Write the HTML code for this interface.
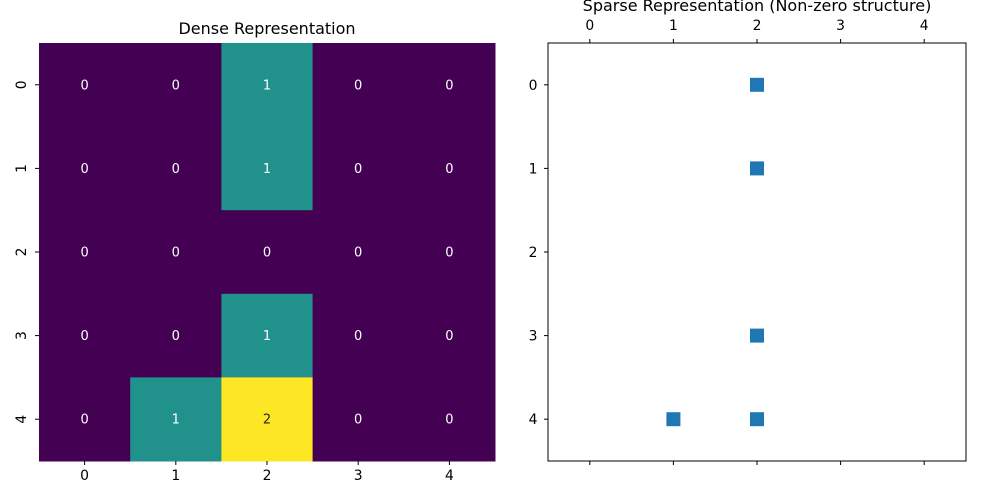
<!DOCTYPE html>
<html><head><meta charset="utf-8">
<style>
html,body{margin:0;padding:0;background:#fff;}
svg{display:block;font-family:"DejaVu Sans","Liberation Sans",sans-serif;}
</style></head>
<body>
<svg id="chart" width="1000" height="500" xmlns="http://www.w3.org/2000/svg">
<text x="267" y="34" font-size="16" text-anchor="middle" fill="#000">Dense Representation</text>
<text x="757" y="11" font-size="16" text-anchor="middle" fill="#000">Sparse Representation (Non-zero structure)</text>
<g id="dense"></g>
<g id="sparse"></g>
</svg>
<script>
const rowLabels = ["0","1","2","3","4"];
const colLabels = ["0","1","2","3","4"];
const matrix = [
  [0,0,1,0,0],
  [0,0,1,0,0],
  [0,0,0,0,0],
  [0,0,1,0,0],
  [0,1,2,0,0]
];
const NS = "http://www.w3.org/2000/svg";
function mk(tag, attrs, parent){const e=document.createElementNS(NS,tag);for(const k in attrs)e.setAttribute(k,attrs[k]);parent.appendChild(e);return e;}
const colorMap = v => v<=0?"#440154":(v>=2?"#fde725":"#21918c");
const FS=13.9;

const dense=document.getElementById('dense');
const L={x0:39,x1:495,y0:43,y1:461};
const n=colLabels.length,m=rowLabels.length;
const cw=(L.x1-L.x0)/n, ch=(L.y1-L.y0)/m;
const hx=j=>L.x0+j*cw, hy=i=>L.y0+i*ch;
matrix.forEach((row,i)=>row.forEach((v,j)=>{
  const r=mk('rect',{x:hx(j),y:hy(i),width:cw+0.5,height:ch+0.5,fill:colorMap(v)},dense);
  
  
  const t=mk('text',{x:hx(j)+cw/2,y:hy(i)+ch/2+4.5,'font-size':13,'text-anchor':'middle',fill:v>=2?'#262626':'#fff'},dense);
  t.textContent=v;
  
  
}));
colLabels.forEach((lab,j)=>{
  const cx=hx(j)+cw/2;
  mk('line',{x1:cx,x2:cx,y1:L.y1,y2:L.y1+4,stroke:'#000'},dense);
  const t=mk('text',{x:cx,y:L.y1+19,'font-size':FS,'text-anchor':'middle'},dense);
  t.textContent=lab;
  
  
});
rowLabels.forEach((lab,i)=>{
  const cy=hy(i)+ch/2;
  mk('line',{x1:L.x0-4,x2:L.x0,y1:cy,y2:cy,stroke:'#000'},dense);
  const t=mk('text',{x:0,y:0,'font-size':FS,'text-anchor':'middle',transform:`translate(${L.x0-13},${cy}) rotate(-90)`},dense);
  t.textContent=lab;
  
  
});

const sp=document.getElementById('sparse');
const R={x0:548,x1:966,y0:43,y1:461};
const sx=v=>R.x0+(v+0.5)/n*(R.x1-R.x0);
const sy=v=>R.y0+(v+0.5)/m*(R.y1-R.y0);
const frame=mk('rect',{x:R.x0,y:R.y0,width:R.x1-R.x0,height:R.y1-R.y0,fill:'none',stroke:'#000','stroke-width':1},sp);


colLabels.forEach((lab,j)=>{
  const x=sx(j);
  mk('line',{x1:x,x2:x,y1:R.y0-4,y2:R.y0,stroke:'#000'},sp);
  mk('line',{x1:x,x2:x,y1:R.y1,y2:R.y1+4,stroke:'#000'},sp);
  const t=mk('text',{x:x,y:R.y0-13,'font-size':FS,'text-anchor':'middle'},sp);
  t.textContent=lab;
  
  
});
rowLabels.forEach((lab,i)=>{
  const y=sy(i);
  mk('line',{x1:R.x0-4,x2:R.x0,y1:y,y2:y,stroke:'#000'},sp);
  const t=mk('text',{x:R.x0-15,y:y+5,'font-size':FS,'text-anchor':'middle'},sp);
  t.textContent=lab;
  
  
});
matrix.forEach((row,i)=>row.forEach((v,j)=>{
  if(v!==0){
    const r=mk('rect',{x:sx(j)-7,y:sy(i)-7,width:14,height:14,fill:'#1f77b4'},sp);
    
    
  }
}));
</script>
</body></html>
